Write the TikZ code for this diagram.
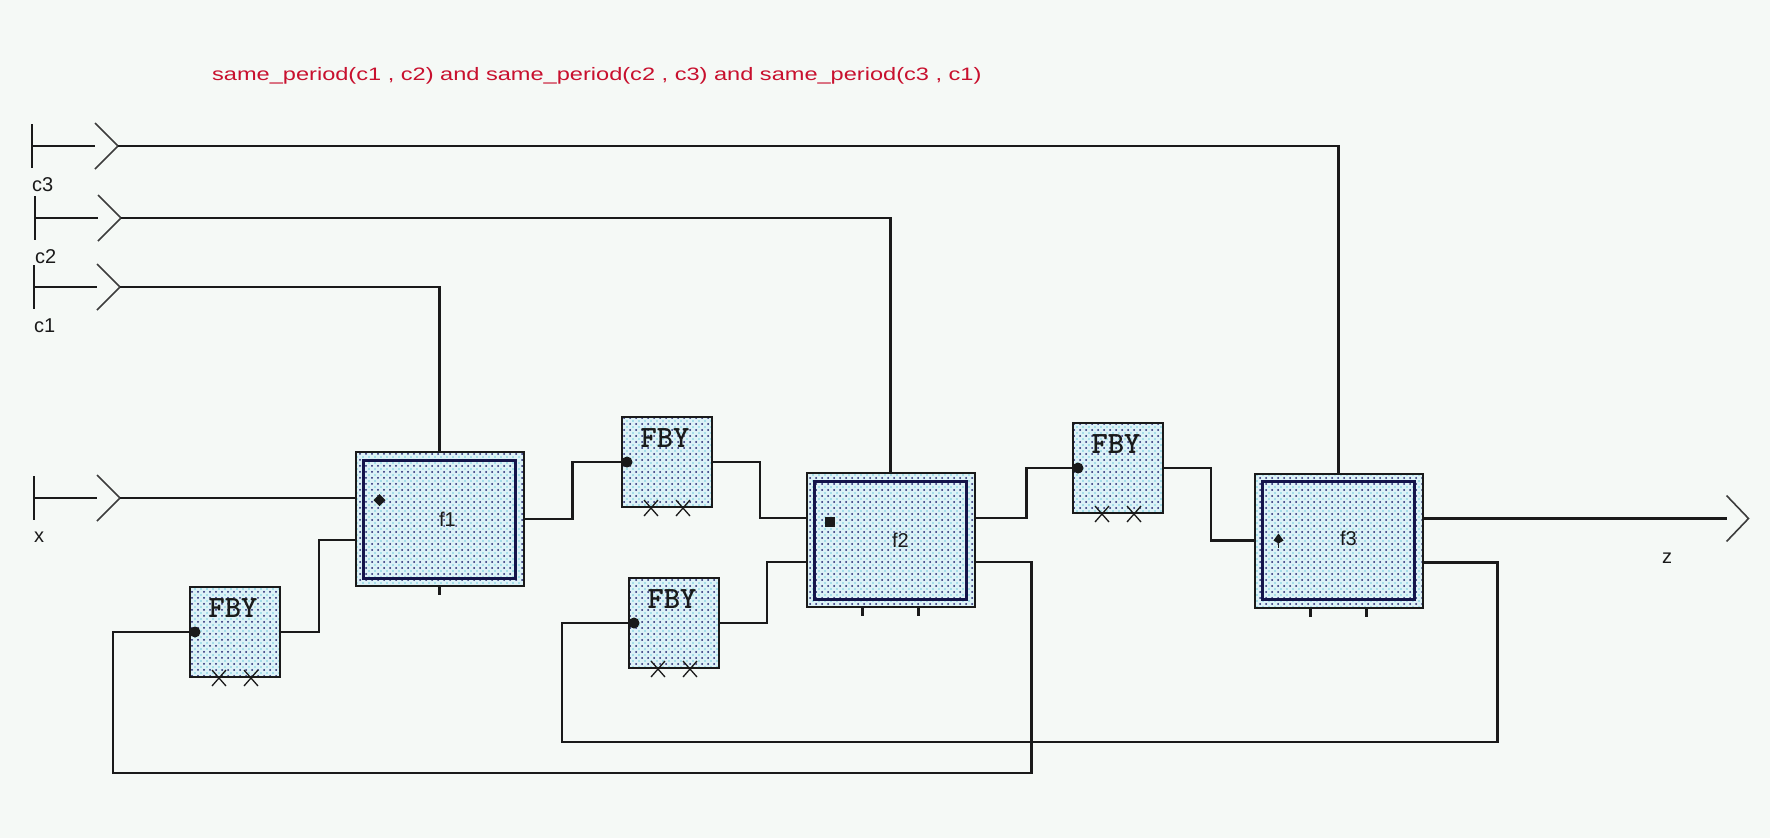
\documentclass[tikz,border=0pt]{standalone}
\usepackage{fontspec}
\setmainfont{Liberation Sans}
\usepackage{graphicx}
\usepackage{tikz}
\usetikzlibrary{calc,patterns.meta}
\definecolor{sdbg}{HTML}{F5F9F6}
\definecolor{sdwire}{HTML}{1A1A1A}
\definecolor{sdfill}{HTML}{DDF2F7}
\definecolor{sddot}{HTML}{1B1B6A}
\definecolor{sdcyan}{HTML}{6FCBDC}
\definecolor{sdframe}{HTML}{14144A}
\definecolor{sdred}{HTML}{C8102E}

\begin{document}
\begin{tikzpicture}[x=1pt,y=-1pt,
  wire/.style={draw=sdwire, line width=2.2pt},
  chev/.style={draw=sdwire!85, line width=1.6pt},
  xmark/.style={draw=sdwire, line width=1.3pt},
  dotfill/.style={preaction={fill=sdfill}, preaction={pattern={Dots[distance=6pt,radius=0.9pt,xshift=3pt,yshift=3pt]}, pattern color=sdcyan}, pattern={Dots[distance=6pt,radius=1pt]}, pattern color=sddot},
  fblock/.style={rectangle, dotfill, draw=sdwire, line width=2pt, minimum width=168pt, minimum height=134pt, inner sep=0pt},
  fbybox/.style={rectangle, dotfill, draw=sdwire, line width=2pt, minimum width=90pt, minimum height=90pt, inner sep=0pt},
  frame/.style={draw=sdframe, line width=3pt},
  lbl/.style={inner sep=0pt, text=sdwire, font=\fontsize{20}{23}\selectfont},
  fbylbl/.style={inner sep=0pt, text=sdwire, font=\ttfamily\bfseries\fontsize{31}{33}\selectfont},
  title/.style={inner sep=0pt, text=sdred, font=\fontsize{18}{21}\selectfont},
  inport/.pic={\draw[wire] (-86,-22) -- (-86,22) (-86,0) -- (-23,0);
    \draw[chev] (-23,-23) -- (0,0) -- (-23,23);
    \coordinate (-tip) at (0,0);
    \node[lbl, anchor=west] (-lbl) at (-86,39) {#1};}]
\useasboundingbox (0,0) rectangle (1770,838);
\fill[sdbg] (0,0) rectangle (1770,838);
\node[title, anchor=base west] (cond) at (212,80) {\scalebox{1.31}[1]{same\_period(c1 , c2) and same\_period(c2 , c3) and same\_period(c3 , c1)}};
\pic (c3) at (118,146) {inport=c3};
\pic (c2) at (121,218) {inport=c2};
\pic (c1) at (120,287) {inport=c1};
\pic (x) at (120,498) {inport=x};
\node[fblock] (f1) at (439.5,519) {};
\node[fblock] (f2) at (890.5,540) {};
\node[fblock] (f3) at (1338.5,540.5) {};
\foreach \f in {f1,f2,f3}
  \draw[frame] ($(\f.north west)+(9,9)$) rectangle ($(\f.south east)+(-9,-9)$);
\node[lbl] (f1t) at ($(f1.center)+(8,0)$) {f1};
\node[lbl] (f2t) at ($(f2.center)+(10,0)$) {f2};
\node[lbl] (f3t) at ($(f3.center)+(10,-2)$) {f3};
\node[fbybox] (fby1) at (235,632) {};
\node[fbybox] (fby2) at (667,462) {};
\node[fbybox] (fby3) at (674,623) {};
\node[fbybox] (fby4) at (1118,468) {};
\foreach \b in {fby1,fby2,fby3,fby4}{
  \node[fbylbl] (\b t) at ($(\b.north)+(-2,22)$) {FBY};
  \foreach \d in {-16,16}
    \draw[xmark] ($(\b.south)+(\d-7,-8)$) -- ++(14,16) ($(\b.south)+(\d+7,-8)$) -- ++(-14,16);
}
\draw[wire] (c3-tip) -| (f3.north);
\draw[wire] (c2-tip) -| (f2.north);
\draw[wire] (c1-tip) -| (f1.north);
\draw[wire] (x-tip) -- (x-tip -| f1.west);
\draw[wire] (fby1.east) -- ++(38,0) |- ($(f1.west)+(0,21)$);
\draw[wire] (f1.east) -- ++(48,0) |- (fby2.west);
\draw[wire] (fby2.east) -- ++(47,0) |- ($(f2.west)+(0,-22)$);
\draw[wire] (fby3.east) -- ++(47,0) |- ($(f2.west)+(0,22)$);
\draw[wire] ($(f2.east)+(0,-22)$) -- ++(51,0) |- (fby4.west);
\draw[wire] (fby4.east) -- ++(47,0) |- (f3.west);
\coordinate (zout) at ($(f3.east)+(303,-22)$);
\draw[wire] ($(f3.east)+(0,-22)$) -- (zout);
\draw[chev] ($(zout)+(0,-23)$) -- ($(zout)+(22,0)$) -- ($(zout)+(0,23)$);
\node[lbl] (zlbl) at (1667,558) {z};
\draw[wire] ($(f3.east)+(0,22)$) -- ++(74,0) |- ($(fby3.west)+(-66,119)$) |- (fby3.west);
\draw[wire] ($(f2.east)+(0,22)$) -- ++(56,0) |- ($(fby1.west)+(-76,141)$) |- (fby1.west);
\foreach \b in {fby1,fby2,fby3,fby4}
  \fill[sdwire] ($(\b.west)+(6,0)$) circle (5.5pt);
\fill[sdwire] ($(f1.west)+(25,-19)$) +(-6,0) -- +(0,-6) -- +(6,0) -- +(0,6) -- cycle;
\fill[sdwire] ($(f2.west)+(24,-18)$) +(-5,-5) rectangle +(5,5);
\fill[sdwire] ($(f3.west)+(25,0)$) +(-5,0) -- +(0,-7) -- +(5,0) -- +(0,3) -- cycle;
\draw[sdwire, line width=1.4pt] ($(f3.west)+(25,0)$) -- +(0,7);
\draw[wire] (f1.south) -- ++(0,8);
\foreach \f in {f2,f3}
  \foreach \d in {-28,28}
    \draw[wire] ($(\f.south)+(\d,0)$) -- ++(0,8);
\end{tikzpicture}
\end{document}
